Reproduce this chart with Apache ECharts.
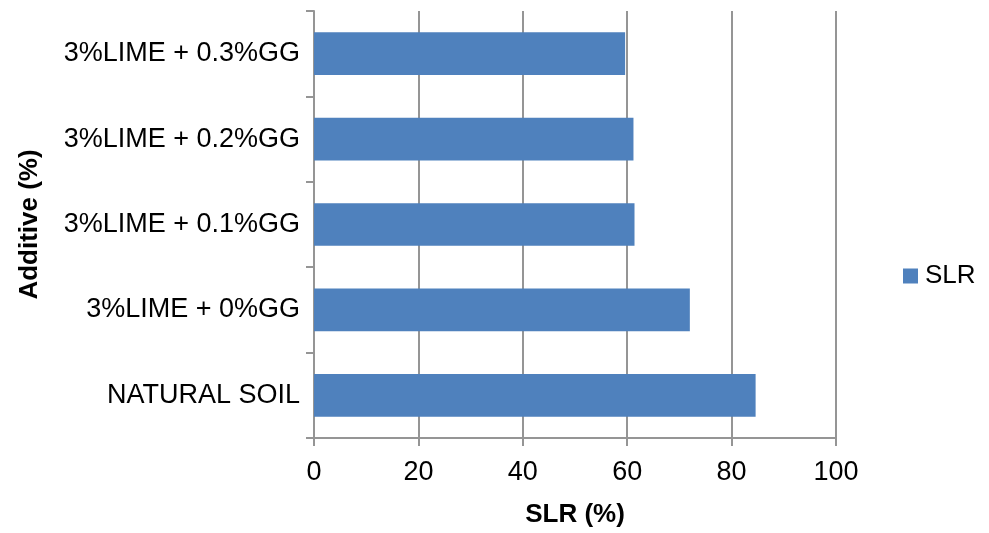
<!DOCTYPE html>
<html>
<head>
<meta charset="utf-8">
<script src="https://cdn.jsdelivr.net/npm/echarts@6/dist/echarts.min.js"></script>
<style>
  html, body { margin: 0; padding: 0; background: #fff; }
  #chart { width: 989px; height: 533px; }
</style>
</head>
<body>
<div id="chart"></div>
<script>
// Additive mixes, listed bottom to top on the category axis
const categories = [
  'NATURAL SOIL',
  '3%LIME + 0%GG',
  '3%LIME + 0.1%GG',
  '3%LIME + 0.2%GG',
  '3%LIME + 0.3%GG'
];
// Strength loss ratio per mix (%)
const slrValues = [84.6, 72.0, 61.4, 61.2, 59.6];
const seriesName = 'SLR';
const xTicks = { min: 0, max: 100, interval: 20 };

const FONT = "'Liberation Sans', Arial, sans-serif";
const GRID = '#959595';

const chart = echarts.init(document.getElementById('chart'), null, { renderer: 'canvas' });
chart.setOption({
  animation: false,
  backgroundColor: '#ffffff',
  textStyle: { fontFamily: FONT },
  grid: { left: 314, right: 153, top: 11, bottom: 93, containLabel: false },
  legend: {
    data: [seriesName],
    left: 898,
    top: 258,
    icon: 'rect',
    itemWidth: 15,
    itemHeight: 15,
    itemGap: 8,
    textStyle: { fontFamily: FONT, fontSize: 26, color: '#000', padding: [0, 0, 0, 2] }
  },
  xAxis: {
    type: 'value',
    min: xTicks.min,
    max: xTicks.max,
    interval: xTicks.interval,
    name: 'SLR (%)',
    nameLocation: 'middle',
    nameGap: 64,
    nameTextStyle: { fontFamily: FONT, fontSize: 26, fontWeight: 'bold', color: '#000' },
    axisLine: { show: true, lineStyle: { color: GRID, width: 2 } },
    axisTick: { show: true, length: 8, lineStyle: { color: GRID, width: 2 } },
    axisLabel: { fontFamily: FONT, fontSize: 27, color: '#000', margin: 21 },
    splitLine: { show: true, lineStyle: { color: GRID, width: 2 } }
  },
  yAxis: {
    type: 'category',
    data: categories,
    name: 'Additive (%)',
    nameLocation: 'middle',
    nameGap: 271,
    nameRotate: 90,
    nameTextStyle: { fontFamily: FONT, fontSize: 26, fontWeight: 'bold', color: '#000' },
    axisLine: { show: true, lineStyle: { color: GRID, width: 2 } },
    axisTick: { show: true, length: 8, inside: false, lineStyle: { color: GRID, width: 2 } },
    axisLabel: { fontFamily: FONT, fontSize: 27, color: '#000', margin: 14 },
    splitLine: { show: false }
  },
  series: [{
    name: seriesName,
    type: 'bar',
    data: slrValues,
    barWidth: '50%',
    itemStyle: { color: '#4f81bd' }
  }]
});
</script>
</body>
</html>
